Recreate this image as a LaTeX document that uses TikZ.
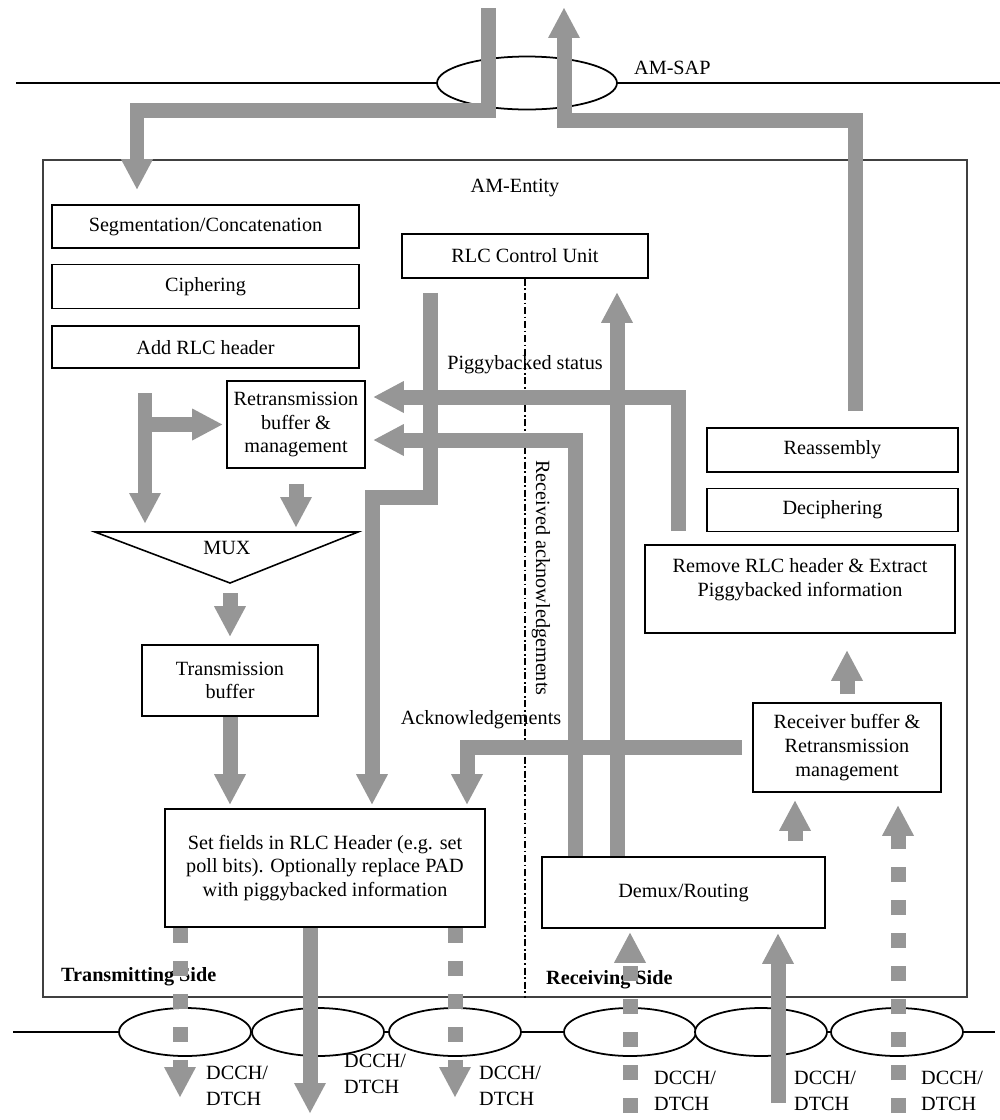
\documentclass[tikz,border=0pt]{standalone}
\usepackage{fontspec}
\setmainfont{Liberation Serif}
\usetikzlibrary{arrows.meta}
\usetikzlibrary{positioning}
\usetikzlibrary{shapes.geometric}
\definecolor{flowgray}{RGB}{150,150,150}
\tikzset{
  % boxes inside the entity
  unit/.style = {
    draw = black,
    line width = 0.9pt,
    rectangle,
    align = center,
    inner sep = 0pt,
    font = \fontsize{11.5}{13.5}\selectfont
  },
  % access points on the two borders
  sap/.style = {
    draw = black,
    line width = 1pt,
    ellipse,
    fill = white,
    inner sep = 0pt
  },
  % free text
  note/.style = {
    align = center,
    font = \fontsize{11.5}{13.5}\selectfont
  },
  side/.style = {
    anchor = west,
    font = \fontsize{11.5}{13.5}\selectfont\bfseries
  },
  chan/.style = {
    anchor = west,
    align = left,
    font = \fontsize{11.5}{15}\selectfont
  }
}
\tikzset {
  % thick grey data path with a block head
  flow/.style = {
    draw = flowgray,
    line width = 0.3cm,
    -{Triangle[width=0.64cm, length=0.6cm, line width=0pt]}
  },
  % same path for the dashed logical channels
  flow dashed/.style = {
    flow,
    dash pattern = on 0.3cm off 0.36cm
  }
}

\begin{document}
\begin{tikzpicture}[x=0.02cm, y=-0.02cm]
  \useasboundingbox (0,0) rectangle (1000,1120);

  % upper border with the AM-SAP
  \draw[line width=0.7pt] (16,83) -- (1000,83);
  \node[sap, minimum width=3.6cm, minimum height=1.06cm] (am-sap) at (527,83) {};
  \node[note, anchor=west] (am-sap-label) at (628,68) {AM-SAP};

  % the entity itself
  \node[draw=black!75, line width=0.8pt, minimum width=18.48cm, minimum height=16.74cm, inner sep=0pt] (entity) at (505,578.5) {};
  \node[note] (entity-label) at (515,188) {AM-Entity};

  % transmitting side
  \node[unit, minimum width=6.14cm, minimum height=0.86cm] (seg) at (205.5,226.5) {Segmentation/Concatenation};
  \node[unit, minimum width=6.14cm, minimum height=0.88cm] (ciph) [below=0.3cm of seg] {Ciphering};
  \node[unit, minimum width=6.14cm, minimum height=0.84cm] (add-hdr) [below=0.32cm of ciph] {Add RLC header};
  \node[unit, minimum width=2.76cm, minimum height=1.74cm] (retx) at (296,424.5) {Retransmission\\buffer \&\\management};
  \coordinate (mux-l) at (95,532);
  \coordinate (mux-r) at (358,532);
  \coordinate (mux-tip) at (230,583);
  \draw[line width=0.9pt] (mux-l) -- (mux-r) -- (mux-tip) -- cycle;
  \node[note] (mux) at (227,548) {MUX};
  \node[unit, minimum width=3.52cm, minimum height=1.42cm] (tx-buf) at (230,680.5) {Transmission\\buffer};
  \node[unit, minimum width=6.4cm, minimum height=2.36cm] (set-fields) at (325,868) {Set fields in RLC Header (e.g. set\\poll bits). Optionally replace PAD\\with piggybacked information};
  \node[side] (tx-side) at (55,977) {Transmitting Side};

  % control unit and the border between the sides
  \node[unit, minimum width=4.92cm, minimum height=0.88cm] (ctrl) at (525,256) {RLC Control Unit};
  \draw[line width=0.8pt, dash pattern=on 4pt off 1.5pt on 1pt off 1.5pt] (ctrl.south) -- (ctrl.south |- 0,998);
  \node[note] (pig-label) at (525,365) {Piggybacked status};
  \node[note, rotate=-90] (rx-ack-label) at (541,578) {Received acknowledgements};
  \node[note] (ack-label) at (481,720) {Acknowledgements};

  % receiving side
  \node[unit, minimum width=5.02cm, minimum height=0.88cm] (reasm) at (832.5,450) {Reassembly};
  \node[unit, minimum width=5.02cm, minimum height=0.86cm] (deciph) [below=0.3cm of reasm] {Deciphering};
  \node[unit, minimum width=6.2cm, minimum height=1.76cm, text depth=0.45cm] (remove) at (800,589) {Remove RLC header \& Extract\\Piggybacked information};
  \node[unit, minimum width=3.76cm, minimum height=1.78cm] (rx-buf) at (847,747.5) {Receiver buffer \&\\Retransmission\\management};
  \node[unit, minimum width=5.66cm, minimum height=1.42cm] (demux) at (683.5,892.5) {Demux/Routing};
  \node[side] (rx-side) at (540,980) {Receiving Side};

  % lower border with the logical channels
  \draw[line width=0.7pt] (13,1032) -- (995,1032);
  \foreach \name/\x in {dl1/185, dl2/318, dl3/455, ul1/630, ul2/761, ul3/897}
    \node[sap, minimum width=2.64cm, minimum height=0.96cm] (\name) at (\x,1032) {};
  \foreach \name/\x/\y in {dl1/200/1086, dl2/338/1074, dl3/473/1086, ul1/648/1091, ul2/788/1091, ul3/915/1091}
    \node[chan] (\name-label) at (\x,\y) {DCCH/\\DTCH};

  % data to and from the AM-SAP
  \coordinate (sap-in) at (488,8);
  \coordinate (sap-out) at (564,8);
  \draw[flow, shorten >=0.3cm] (sap-in) |- (137,110) -- (seg.north -| 137,0);
  \draw[flow, shorten <=0.32cm] (reasm.north -| 855,0) |- (sap-out |- 0,120) -- (sap-out);

  % transmitting flows
  \coordinate (tx-split) at (145,393);
  \draw[flow, shorten >=0.18cm] (tx-split) -- (tx-split |- mux-l);
  \draw[flow, shorten >=0.08cm] (tx-split |- retx.west) -- (retx.west);
  \draw[flow, shorten <=0.3cm, shorten >=0.1cm] (retx.south) -- (retx.south |- mux-r);
  \draw[flow, shorten <=0.2cm, shorten >=0.16cm] (mux-tip) -- (tx-buf.north);
  \draw[flow, shorten >=0.08cm] (tx-buf.south) -- (set-fields.north -| tx-buf.south);
  \coordinate (ctrl-bend) at (372,497);
  \draw[flow, shorten <=0.28cm, shorten >=0.08cm] (ctrl.south -| 430,0) |- (ctrl-bend) -- (set-fields.north -| ctrl-bend);

  % status and acknowledgements
  \draw[flow, shorten <=0.26cm, shorten >=0.16cm] (remove.north -| 678,0) |- (retx.east |- 0,397);
  \draw[flow, shorten >=0.16cm] (demux.north -| 575,0) |- (retx.east |- 0,440);
  \draw[flow, shorten >=0.28cm] (demux.north -| 617,0) -- (ctrl.south -| 617,0);
  \draw[flow, shorten <=0.2cm, shorten >=0.08cm] (rx-buf.west) -| (set-fields.north -| 467,0);

  % receiving flows
  \draw[flow, shorten <=0.16cm, shorten >=0.34cm] (rx-buf.north) -- (rx-buf.north |- remove.south);
  \draw[flow, shorten <=0.3cm, shorten >=0.16cm] (demux.north -| 795,0) -- (rx-buf.south -| 795,0);

  % logical channels
  \coordinate (ch1) at (180,1097);
  \coordinate (ch2) at (310,1113);
  \coordinate (ch3) at (455,1097);
  \coordinate (ch4) at (630,1113);
  \coordinate (ch5) at (778,1103);
  \coordinate (ch6) at (898,1113);
  \draw[flow dashed] (set-fields.south -| ch1) -- (ch1);
  \draw[flow] (set-fields.south -| ch2) -- (ch2);
  \draw[flow dashed] (set-fields.south -| ch3) -- (ch3);
  \draw[flow dashed, shorten >=0.08cm] (ch4) -- (ch4 |- demux.south);
  \draw[flow, shorten >=0.1cm] (ch5) -- (ch5 |- demux.south);
  \draw[flow dashed, shorten >=0.26cm] (ch6) -- (ch6 |- rx-buf.south);
\end{tikzpicture}
\end{document}
